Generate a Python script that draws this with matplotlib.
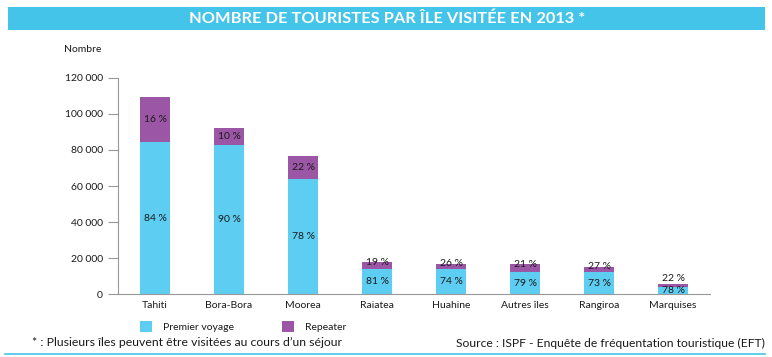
import matplotlib.pyplot as plt
import numpy as np
from matplotlib.patches import Rectangle

plt.rcParams['font.family'] = ['Lato', 'DejaVu Sans']

# data
islands = ['Tahiti', 'Bora-Bora', 'Moorea', 'Raiatea', 'Huahine', 'Autres îles', 'Rangiroa', 'Marquises']
premier = [84400, 82700, 64000, 14000, 13800, 12300, 12300, 4000]
repeater = [24700, 9600, 12600, 3700, 3000, 4300, 3000, 1500]
pct_premier = ['84 %', '90 %', '78 %', '81 %', '74 %', '79 %', '73 %', '78 %']
pct_repeater = ['16 %', '10 %', '22 %', '19 %', '26 %', '21 %', '27 %', '22 %']
yticks = [0, 20000, 40000, 60000, 80000, 100000, 120000]
yticklabels = ['0', '20 000', '40 000', '60 000', '80 000', '100 000', '120 000']

blue = '#5ecdf2'
purple = '#9b57a5'
banner = '#45c4e9'
txt = '#1a1a1a'

W, H = 772, 357
fig = plt.figure(figsize=(W / 100, H / 100), dpi=100)

# title banner
fig.patches.append(Rectangle((8 / W, 1 - 30 / H), 757 / W, 23 / H, transform=fig.transFigure,
                             facecolor=banner, edgecolor='none'))
fig.text(387 / W, 1 - 18.5 / H, 'NOMBRE DE TOURISTES PAR ÎLE VISITÉE EN 2013 *', color='white',
         fontsize=11.8, fontweight='bold', ha='center', va='center')

ax = fig.add_axes([118 / W, 1 - 294.3 / H, 592 / W, 216.6 / H])
x = np.arange(len(islands))
bw = 0.40
ax.bar(x, premier, bw, color=blue, zorder=2)
ax.bar(x, repeater, bw, bottom=premier, color=purple, zorder=2)

for i in range(len(islands)):
    p, r = premier[i], repeater[i]
    ax.text(i, p / 2, pct_premier[i], ha='center', va='center', fontsize=7.5, color=txt, zorder=3)
    if r > 8000:
        yr = p + r / 2
    else:
        yr = max(p + r, p / 2 + 7000)
    ax.text(i, yr, pct_repeater[i], ha='center', va='center', fontsize=7.5, color=txt, zorder=3)

ax.set_xlim(-0.5, len(islands) - 0.5)
ax.set_ylim(0, 120000)
ax.set_yticks(yticks)
ax.set_yticklabels(yticklabels, fontsize=7.5, color=txt)
ax.set_xticks(x)
ax.set_xticklabels(islands, fontsize=7.5, color=txt)
ax.tick_params(axis='x', length=0, pad=5)
ax.tick_params(axis='y', length=7, color='#999999', pad=4)
for s in ['top', 'right']:
    ax.spines[s].set_visible(False)
for s in ['left', 'bottom']:
    ax.spines[s].set_color('#999999')
    ax.spines[s].set_linewidth(0.8)

fig.text(64 / W, 1 - 50 / H, 'Nombre', fontsize=7.5, color=txt, ha='left', va='center')

# legend
fig.patches.append(Rectangle((140 / W, 1 - 332 / H), 12 / W, 11 / H, transform=fig.transFigure,
                             facecolor=blue, edgecolor='none'))
fig.text(163 / W, 1 - 327 / H, 'Premier voyage', fontsize=7.5, color=txt, va='center')
fig.patches.append(Rectangle((282 / W, 1 - 332 / H), 12 / W, 11 / H, transform=fig.transFigure,
                             facecolor=purple, edgecolor='none'))
fig.text(305 / W, 1 - 327 / H, 'Repeater', fontsize=7.5, color=txt, va='center')

# footer
fig.text(32 / W, 1 - 343 / H, '* : Plusieurs îles peuvent être visitées au cours d\u2019un séjour',
         fontsize=8.8, color=txt, va='center')
fig.text(765 / W, 1 - 343 / H, 'Source : ISPF - Enquête de fréquentation touristique (EFT)',
         fontsize=8.7, color=txt, va='center', ha='right')
fig.add_artist(plt.Line2D([5 / W, 765 / W], [1 - 354 / H, 1 - 354 / H], color=banner, lw=1.2,
                          transform=fig.transFigure))

fig.savefig('out.png', dpi=100)
